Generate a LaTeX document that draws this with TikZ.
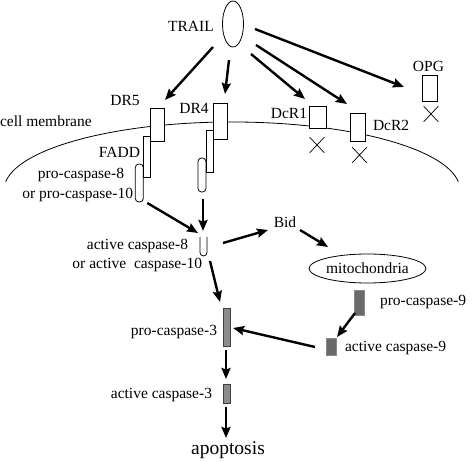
\documentclass[tikz,border=0pt]{standalone}
\usepackage{fontspec}
\setmainfont{Liberation Serif}
\usetikzlibrary{arrows.meta,calc,shapes.geometric,shapes.misc}
\definecolor{casp3}{HTML}{8C8C8C}
\definecolor{casp9}{HTML}{6A6A6A}
\begin{document}
\begin{tikzpicture}[x=1pt,y=-1pt,
  font=\fontsize{15.5}{18}\selectfont,
  box/.style={draw, line width=0.8pt, fill=white, inner sep=0, outer sep=0},
  pill/.style={box, rounded corners=3.5pt},
  grey3/.style={draw=black!75, line width=0.8pt, fill=casp3, inner sep=0, outer sep=0},
  grey9/.style={draw=casp9!80, line width=0.5pt, fill=casp9, inner sep=0, outer sep=0},
  lbl/.style={inner sep=0, outer sep=0},
  xmark/.style={cross out, draw, line width=0.7pt, minimum width=14pt, minimum height=15pt, inner sep=0},
  arr/.style={line width=2.4pt, -{Stealth[length=11pt,width=9pt,inset=1.5pt]}},
  thinline/.style={line width=0.8pt}]
\useasboundingbox (0,0) rectangle (472,462);

% membrane
\draw[thinline] (5.7,181.7) arc[start angle=187, end angle=353, x radius=228, y radius=68];

% TRAIL
\node[ellipse, draw, line width=0.8pt, minimum width=21pt, minimum height=46pt, inner sep=0] (trail) at (233,24) {};
\node[lbl] (trailtxt) at (191,26) {TRAIL};

% receptors with FADD and pro-caspase
\node[pill, minimum width=8pt, minimum height=38pt] (pc5) at (139.3,183) {};
\node[box, minimum width=7pt, minimum height=41pt] (fadd5) at (147,156.5) {};
\node[box, minimum width=14pt, minimum height=33pt] (dr5) at (157.5,124.5) {};
\node[pill, minimum width=8pt, minimum height=34pt] (pc4) at (202,175) {};
\node[box, minimum width=7pt, minimum height=42pt] (fadd4) at (209.5,151) {};
\node[box, minimum width=14pt, minimum height=36pt] (dr4) at (220,121) {};
\node[box, minimum width=17pt, minimum height=22pt] (dcr1) at (317.5,117) {};
\node[box, minimum width=15pt, minimum height=28pt] (dcr2) at (357.5,127) {};
\node[box, minimum width=15pt, minimum height=26pt] (opg) at (429.5,88) {};

\node[xmark] (x1) at (317,145) {};
\node[xmark] (x2) at (359.5,155) {};
\node[xmark] (x3) at (431,114) {};

% labels near membrane
\node[lbl] (dr5txt) at (125,101) {DR5};
\node[lbl] (dr4txt) at (194,108) {DR4};
\node[lbl, anchor=west] (memtxt) at (0,121) {cell membrane};
\node[lbl, anchor=east] (faddtxt) at (140,152) {FADD};
\node[lbl, anchor=east] (pc8txt) at (124,175) {pro-caspase-8};
\node[lbl, anchor=east] (pc10txt) at (133,195) {or pro-caspase-10};
\node[lbl, anchor=east] (dcr1txt) at (307,113) {DcR1};
\node[lbl, anchor=west] (dcr2txt) at (373,125) {DcR2};
\node[lbl] (opgtxt) at (428.5,66) {OPG};

% lower part
\node[inner sep=0, outer sep=0, minimum width=7pt, minimum height=19pt] (ac8) at (203.5,246.5) {};
\draw[thinline, rounded corners=3.5pt] (ac8.north west) -- (ac8.south west) -- (ac8.south east) -- (ac8.north east);
\node[lbl, anchor=east] (ac8txt) at (188,246) {active caspase-8};
\node[lbl, anchor=east] (ac10txt) at (202,265) {or active~ caspase-10};
\node[lbl] (bid) at (285,222) {Bid};
\node[ellipse, draw, line width=0.8pt, minimum width=115pt, minimum height=29pt, inner sep=0] (mito) at (367.5,268.5) {mitochondria};
\node[grey9, minimum width=10pt, minimum height=25pt] (pc9) at (359,302.5) {};
\node[lbl, anchor=west] (pc9txt) at (380,302) {pro-caspase-9};
\node[grey9, minimum width=10pt, minimum height=17pt] (ac9) at (331,346.5) {};
\node[lbl, anchor=west] (ac9txt) at (345,348) {active caspase-9};
\node[grey3, minimum width=7pt, minimum height=38pt] (pc3) at (226.5,327) {};
\node[lbl, anchor=east] (pc3txt) at (217,332) {pro-caspase-3};
\node[grey3, minimum width=7pt, minimum height=19pt] (ac3) at (226.5,393.5) {};
\node[lbl, anchor=east] (ac3txt) at (212,395) {active caspase-3};
\node[lbl, font=\fontsize{19.5}{22}\selectfont] (apop) at (228,450) {apoptosis};

% arrows
\draw[arr] ($(trail)+(-20,23)$) -- ($(dr5)+(7.5,-24.5)$);
\draw[arr] ($(trail)+(-4,36)$) -- ($(dr4)+(5,-27)$);
\draw[arr] ($(trail)+(18,30)$) -- ($(dcr1)+(-12.5,-18)$);
\draw[arr] ($(trail)+(23,21)$) -- ($(dcr2)+(-10.5,-23)$);
\draw[arr] ($(trail)+(22,5)$) -- ($(opg)+(-25.5,-1)$);
\draw[arr] ($(pc5)+(8,20)$) -- ($(ac8)+(-5.5,-13.5)$);
\draw[arr] ($(pc4)+(1,24)$) -- ($(ac8)+(-0.5,-15.5)$);
\draw[arr] ($(ac8)+(19.5,-3.5)$) -- ($(bid)+(-17,8)$);
\draw[arr] ($(bid)+(15,8)$) -- ($(mito)+(-39.5,-21.5)$);
\draw[arr] ($(pc9)+(-4,10.5)$) -- ($(ac9)+(6,-9.5)$);
\draw[arr] ($(ac9)+(-16,0.5)$) -- ($(pc3)+(6.5,1)$);
\draw[arr] ($(ac8)+(6.5,14.5)$) -- ($(pc3)+(-6.5,-25)$);
\draw[arr] ($(pc3)+(-0.5,23)$) -- ($(ac3)+(-0.5,-14.5)$);
\draw[arr] ($(ac3)+(-0.5,13.5)$) -- ($(apop)+(-2,-12)$);
\end{tikzpicture}
\end{document}
